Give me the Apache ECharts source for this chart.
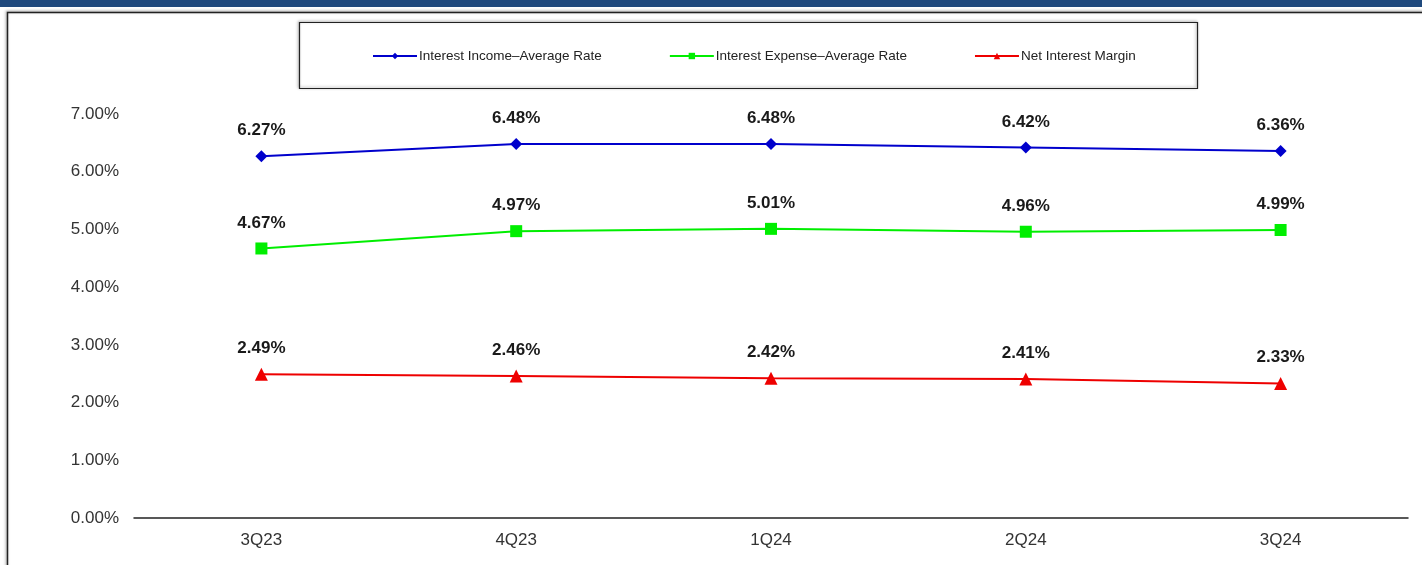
<!DOCTYPE html>
<html><head><meta charset="utf-8">
<script src="https://cdn.jsdelivr.net/npm/echarts@6/dist/echarts.min.js"></script>
<style>html,body{margin:0;padding:0;background:#fff}#c{width:1422px;height:565px}</style>
</head><body><div id="c"></div>
<script>
const categories = ['3Q23','4Q23','1Q24','2Q24','3Q24'];
const incomeRate = [6.27, 6.48, 6.48, 6.42, 6.36];
const expenseRate = [4.67, 4.97, 5.01, 4.96, 4.99];
const netMargin = [2.49, 2.46, 2.42, 2.41, 2.33];
const seriesNames = ['Interest Income\u2013Average Rate','Interest Expense\u2013Average Rate','Net Interest Margin'];

const chart = echarts.init(document.getElementById('c'));
const font = 'Liberation Sans, Arial, sans-serif';
const lbl = {show:true, position:'top', distance:11, fontFamily:font, fontSize:17, fontWeight:'bold', color:'#1a1a1a', formatter: p => p.value.toFixed(2)+'%'};
function mk(name, data, color, symbol, size){
  return {name, type:'line', data, symbol, symbolSize:size, itemStyle:{color}, lineStyle:{color, width:2}, label:lbl, z:3};
}
chart.setOption({
  backgroundColor:'#fff',
  animation:false,
  graphic:[
    {type:'rect', shape:{x:0,y:0,width:1422,height:7}, style:{fill:'#1F497D'}},
    {type:'rect', shape:{x:7.5,y:12.5,width:1430,height:560}, style:{fill:'#fff', stroke:'#222', lineWidth:1.5, shadowBlur:3, shadowColor:'rgba(0,0,0,0.35)', shadowOffsetX:-1, shadowOffsetY:-1}, z:-10},
    {type:'rect', shape:{x:299.5,y:22.5,width:898,height:66}, style:{fill:'#fff', stroke:'#222', lineWidth:1.2, shadowBlur:3, shadowColor:'rgba(0,0,0,0.35)', shadowOffsetX:-1, shadowOffsetY:-1}, z:-5}
  ],
  legend:{
    data:seriesNames, top:44, left:367, itemWidth:44, itemHeight:8, itemGap:67,
    textStyle:{fontFamily:font, fontSize:13.5, color:'#222', padding:[0,0,0,-3]}
  },
  grid:{left:134, right:14, top:114, bottom:47},
  xAxis:{type:'category', data:categories, boundaryGap:true,
    axisLine:{lineStyle:{color:'#222', width:1.5}}, axisTick:{show:false},
    axisLabel:{fontFamily:font, fontSize:17, color:'#333', margin:14}},
  yAxis:{type:'value', min:0, max:7, interval:1, splitLine:{show:false}, axisLine:{show:false}, axisTick:{show:false},
    axisLabel:{fontFamily:font, fontSize:17, color:'#333', margin:15, formatter:v=>v.toFixed(2)+'%'}},
  series:[
    mk(seriesNames[0], incomeRate, '#0000CC', 'diamond', 12),
    mk(seriesNames[1], expenseRate, '#00EE00', 'rect', 12),
    mk(seriesNames[2], netMargin, '#EE0000', 'triangle', 13)
  ]
});
</script></body></html>
